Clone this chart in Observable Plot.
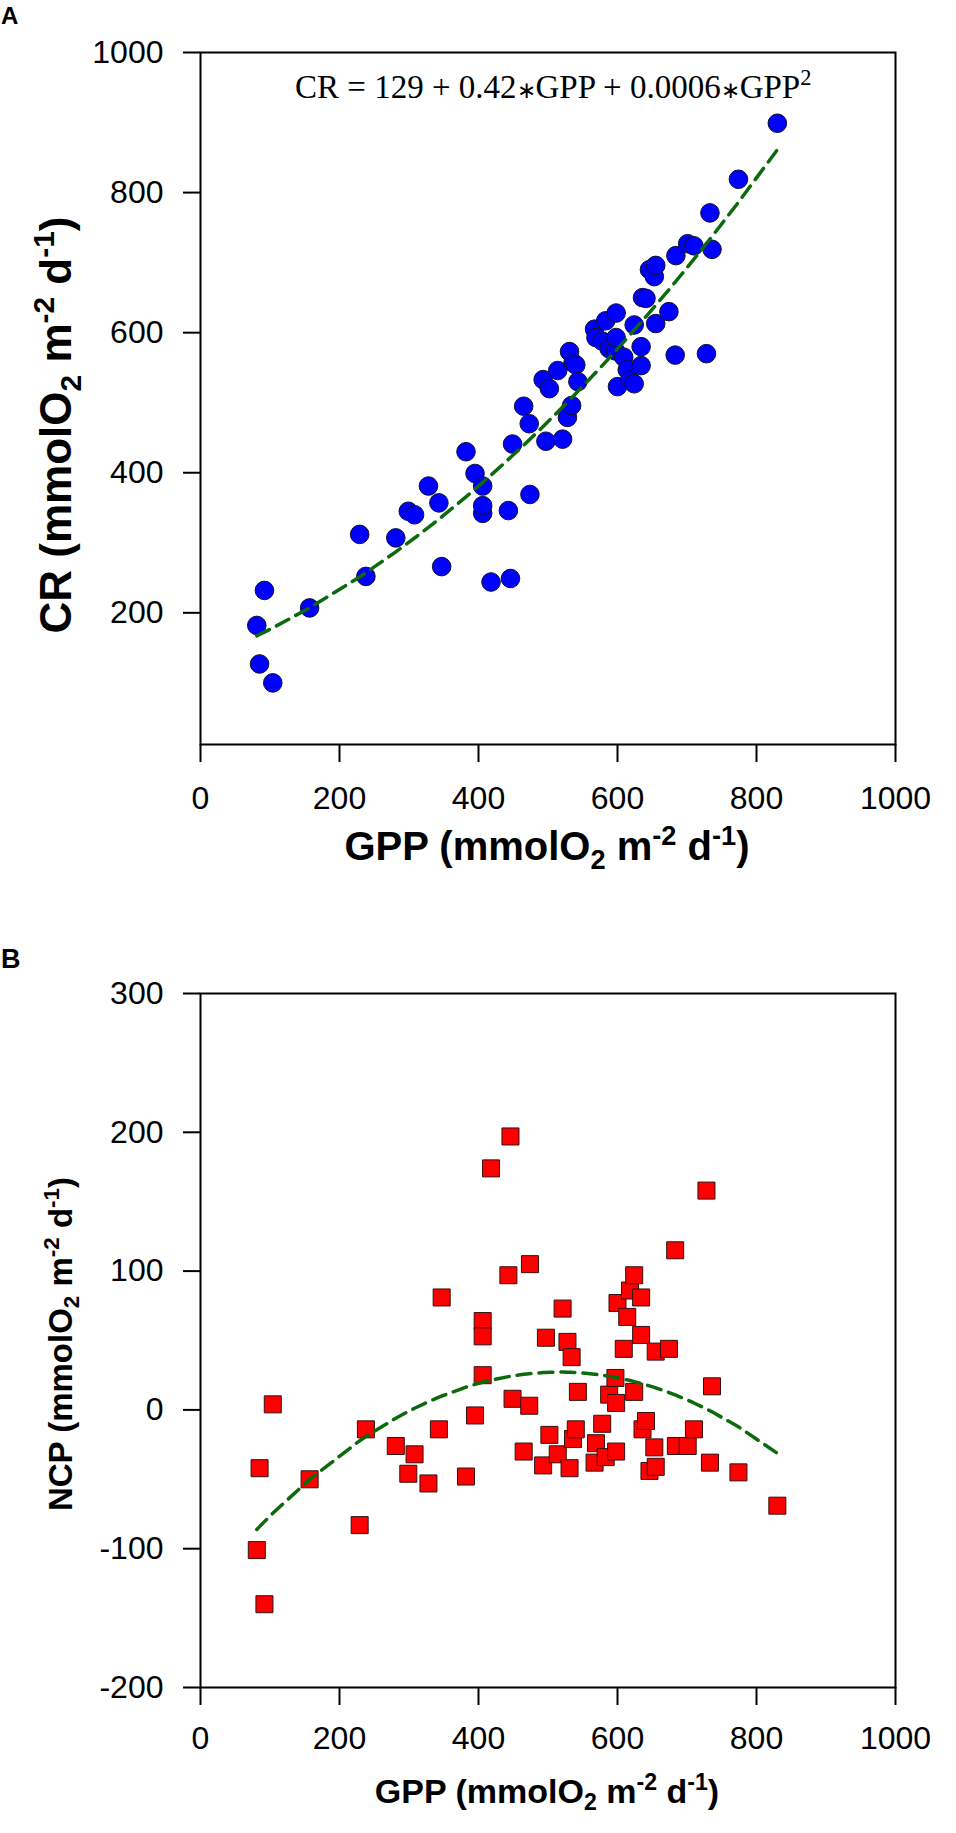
<!DOCTYPE html>
<html><head><meta charset="utf-8">
<script src="https://cdn.jsdelivr.net/npm/d3@7"></script>
<script src="https://cdn.jsdelivr.net/npm/@observablehq/plot@0.6"></script>
<style>
html,body{margin:0;padding:0;background:#fff;}
#wrap{position:relative;width:956px;height:1833px;overflow:hidden;background:#fff;}
#pa,#pb{position:absolute;left:0;}
#pa{top:0px}
#pb{top:900px}
</style></head><body><div id="wrap"><div id="pa"></div><div id="pb"></div></div>
<script>
// Data (GPP, CR and NCP in mmolO2 m-2 d-1)
const gpp = [81,85,92,104,157,229,238,281,299,308,328,343,347,382,395,406,406,406,418,443,446,449,465,473,474,493,497,502,514,521,528,531,534,536,540,543,567,569,578,583,588,597,598,598,600,609,614,618,624,624,634,634,636,641,646,653,655,655,674,683,684,701,710,728,733,736,774,830];
const cr = [182,127,232,100,207,312,252,307,345,340,381,357,266,430,399,342,353,381,244,346,249,441,495,470,369,533,445,520,546,448,479,573,496,557,554,530,605,593,588,617,577,574,593,628,523,565,547,532,527,611,553,580,650,649,690,680,613,696,630,568,710,727,724,570,771,719,819,899];
const ncp = [-101,-42,-140,4,-50,-83,-14,-26,-46,-32,-53,-14,81,-48,-4,64,53,25,174,97,197,8,-30,3,105,-40,52,-18,-32,73,49,-42,38,-21,-14,13,-38,-24,-10,-34,11,23,5,-30,77,44,67,86,97,13,81,54,-14,-8,-44,-27,42,-41,44,115,-26,-26,-14,158,-38,17,-45,-69];

const gppTicks = [0,200,400,600,800,1000];
const crTicks = [200,400,600,800,1000];
const ncpTicks = [-200,-100,0,100,200,300];
const equationParts = [["CR = 129 + 0.42","n"],["\u2217","ast"],["GPP + 0.0006","n"],["\u2217","ast"],["GPP","n"],["2","sup"]];

const rows = gpp.map((g,i)=>({gpp:g, cr:cr[i], ncp:ncp[i]}));

// quadratic least-squares fit (regression of the plotted data)
function quadFit(xs, ys){
  const s = 1/1000;
  let n=xs.length,S1=0,S2=0,S3=0,S4=0,T0=0,T1=0,T2=0;
  for(let i=0;i<n;i++){const x=xs[i]*s,y=ys[i];S1+=x;S2+=x*x;S3+=x*x*x;S4+=x*x*x*x;T0+=y;T1+=x*y;T2+=x*x*y;}
  const M=[[n,S1,S2],[S1,S2,S3],[S2,S3,S4]], V=[T0,T1,T2];
  const det=m=>m[0][0]*(m[1][1]*m[2][2]-m[1][2]*m[2][1])-m[0][1]*(m[1][0]*m[2][2]-m[1][2]*m[2][0])+m[0][2]*(m[1][0]*m[2][1]-m[1][1]*m[2][0]);
  const D=det(M);
  const sol=[0,1,2].map(k=>det(M.map((r,i)=>r.map((v,j)=>j===k?V[i]:v)))/D);
  return x=>{const u=x*s;return sol[0]+sol[1]*u+sol[2]*u*u;};
}
const fCR = quadFit(gpp, cr);
const fNCP = quadFit(gpp, ncp);
const xsFit = Array.from(new Set(gpp)).sort((a,b)=>a-b);
const fitA = xsFit.map(x=>({x, y:fCR(x)}));
const fitB = xsFit.map(x=>({x, y:fNCP(x)}));

const SANS = "'Liberation Sans', Arial, Helvetica, sans-serif";
const GREEN = "#0c6a0c";

function richText(g, parts, F){
  let shift = 0;
  parts.forEach(([t,k])=>{
    const ts = g.append("tspan").text(t);
    let target = 0;
    if(k==="sup"){ target = -0.38*F; ts.attr("font-size", 0.68*F); }
    else if(k==="sub"){ target = 0.22*F; ts.attr("font-size", 0.68*F); }
    else if(k==="ast"){ target = 0; ts.attr("font-size", 0.7*F); }
    ts.attr("dy", target - shift);
    shift = target;
  });
}
const unitParts = (name)=>[[name+" (mmolO","n"],["2","sub"],[" m","n"],["-2","sup"],[" d","n"],["-1","sup"],[")","n"]];

function makePanel(opts){
  return Plot.plot({
    width:956, height:opts.height,
    marginLeft:200, marginRight:61, marginTop:opts.mt, marginBottom:opts.mb,
    x:{domain:[0,1000]}, y:{domain:opts.ydomain},
    style:{fontFamily:SANS, fontSize:"32px", background:"transparent", color:"#000", overflow:"visible"},
    marks:[
      Plot.axisX({ticks:gppTicks, tickSize:18, tickPadding:opts.xpad, fontSize:32, label:null, strokeWidth:2, tickFormat:d=>String(d)}),
      Plot.axisY({ticks:opts.yticks, tickSize:17, tickPadding:20, fontSize:32, label:null, strokeWidth:2, tickFormat:d=>String(d)}),
      opts.dots,
      Plot.line(opts.fit, {x:"x", y:"y", stroke:GREEN, strokeWidth:3.5, strokeDasharray:"14,8"}),
      Plot.frame({stroke:"#000", strokeWidth:2})
    ]
  });
}

// Panel A
const svgA = makePanel({
  height:880, mt:52, mb:880-744, ydomain:[12,1000], yticks:crTicks, xpad:24, fit:fitA,
  dots: Plot.dot(rows, {x:"gpp", y:"cr", r:9.3, fill:"#0000ff", stroke:"#111133", strokeWidth:1})
});
document.getElementById("pa").appendChild(svgA);
{
  const s = d3.select(svgA);
  s.append("text").attr("x",1).attr("y",24).attr("text-anchor","start").attr("font-family",SANS).attr("font-weight","bold").attr("font-size",24).text("A");
  const eq = s.append("text").attr("x",295).attr("y",98).attr("text-anchor","start").attr("font-family","'Liberation Serif','Times New Roman',serif").attr("font-size",33).attr("fill","#000");
  richText(eq, equationParts, 33);
  const xt = s.append("text").attr("x",547).attr("y",860).attr("text-anchor","middle").attr("font-family",SANS).attr("font-weight","bold").attr("font-size",40);
  richText(xt, unitParts("GPP"), 40);
  const yt = s.append("text").attr("transform","translate(71,425) rotate(-90)").attr("text-anchor","middle").attr("font-family",SANS).attr("font-weight","bold").attr("font-size",44);
  richText(yt, unitParts("CR"), 44);
}

// Panel B
const svgB = makePanel({
  height:920, mt:93, mb:920-787, ydomain:[-200,300], yticks:ncpTicks, xpad:21, fit:fitB,
  dots: Plot.dot(rows, {x:"gpp", y:"ncp", r:9.6, symbol:"square", fill:"#ff0000", stroke:"#331111", strokeWidth:1})
});
document.getElementById("pb").appendChild(svgB);
{
  const s = d3.select(svgB);
  s.append("text").attr("x",1).attr("y",68).attr("text-anchor","start").attr("font-family",SANS).attr("font-weight","bold").attr("font-size",27).text("B");
  const xt = s.append("text").attr("x",547).attr("y",903).attr("text-anchor","middle").attr("font-family",SANS).attr("font-weight","bold").attr("font-size",34);
  richText(xt, unitParts("GPP"), 34);
  const yt = s.append("text").attr("transform","translate(72,444) rotate(-90)").attr("text-anchor","middle").attr("font-family",SANS).attr("font-weight","bold").attr("font-size",33);
  richText(yt, unitParts("NCP"), 33);
}
</script></body></html>
